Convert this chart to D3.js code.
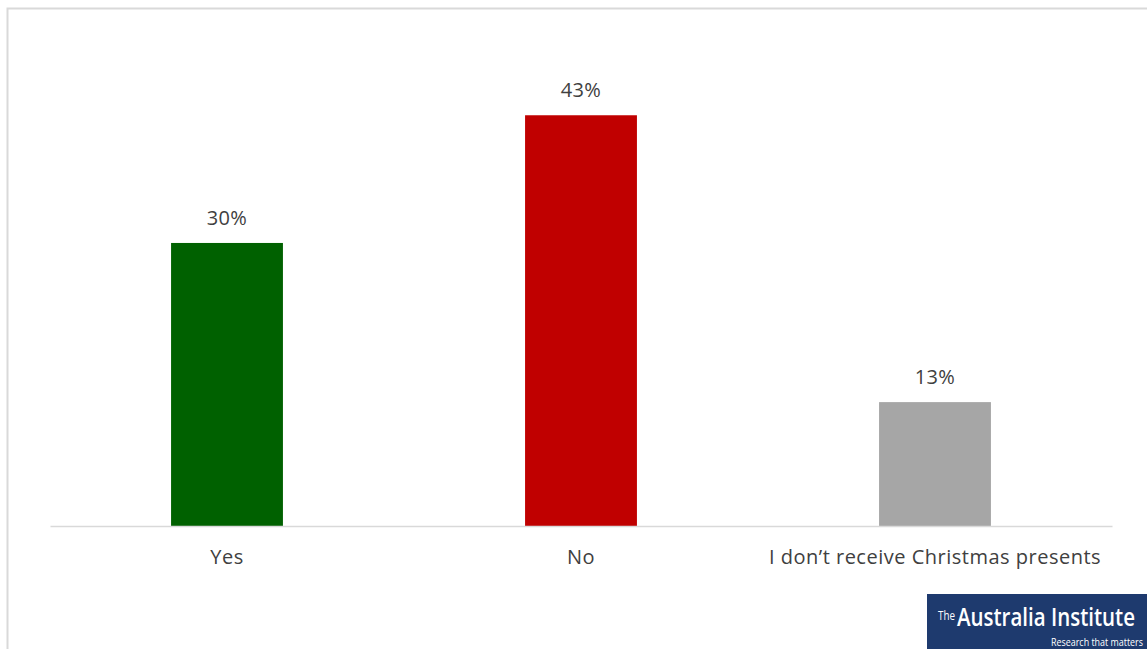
<!DOCTYPE html>
<html><head><meta charset="utf-8">
<script src="https://cdn.jsdelivr.net/npm/d3@7"></script>
<style>body{margin:0;background:#fff;}svg{display:block;}</style>
</head><body>
<svg id="c" width="1147" height="649"></svg>
<script>
const categories = ["Yes", "No", "I don\u2019t receive Christmas presents"];
const values = [29.7, 43.1, 13.0];
const valueLabels = ["30%", "43%", "13%"];
const colors = ["#006100", "#c00000", "#a6a6a6"];

const svg = d3.select("#c");
const baseY = 526;
const FONT = "'Open Sans', Lato, sans-serif";

// chart border
svg.append("rect").attr("x", 7.5).attr("y", 8.5).attr("width", 1160).attr("height", 700)
  .attr("fill", "none").attr("stroke", "#d9d9d9").attr("stroke-width", 2);

const x = d3.scaleBand().domain(categories).range([50, 1112]).paddingInner(0.684).paddingOuter(0.342);
const y = d3.scaleLinear().domain([0, 50]).range([baseY, baseY - 476.5]);

svg.selectAll("rect.bar").data(values).enter().append("rect").attr("class", "bar")
  .attr("x", (d, i) => x(categories[i]))
  .attr("width", x.bandwidth())
  .attr("y", d => y(d))
  .attr("height", d => y(0) - y(d))
  .attr("fill", (d, i) => colors[i]);

// baseline axis
const ax = svg.append("g").attr("transform", `translate(0,${baseY})`)
  .call(d3.axisBottom(x).tickSize(0).tickPadding(0));
ax.select(".domain").attr("stroke", "#d9d9d9").attr("stroke-width", 1.5);
ax.selectAll("text").attr("font-family", FONT).attr("font-size", 20).attr("letter-spacing", 0.5)
  .attr("fill", "#404040").attr("dy", 0).attr("y", 38);

svg.selectAll("text.val").data(values).enter().append("text").attr("class", "val")
  .attr("x", (d, i) => x(categories[i]) + x.bandwidth() / 2)
  .attr("y", d => y(d) - 18)
  .attr("text-anchor", "middle")
  .attr("font-family", FONT).attr("font-size", 20).attr("letter-spacing", 0.3)
  .attr("fill", "#404040")
  .text((d, i) => valueLabels[i]);

// logo
const logo = svg.append("g").attr("transform", "translate(927,594)");
logo.append("rect").attr("width", 220).attr("height", 55).attr("fill", "#1e3a6e");
const LF = "'Open Sans', 'Liberation Sans', sans-serif";
logo.append("text").attr("x", 11).attr("y", 26).attr("fill", "#fff")
  .attr("font-family", LF).attr("font-size", 12).attr("textLength", 17).attr("lengthAdjust", "spacingAndGlyphs")
  .text("The");
logo.append("text").attr("x", 30).attr("y", 32).attr("fill", "#fff")
  .attr("font-family", LF).attr("font-size", 26).attr("font-weight", 600)
  .attr("textLength", 178).attr("lengthAdjust", "spacingAndGlyphs").text("Australia Institute");
logo.append("text").attr("x", 124).attr("y", 52).attr("fill", "#fff")
  .attr("font-family", LF).attr("font-size", 11)
  .attr("textLength", 92).attr("lengthAdjust", "spacingAndGlyphs").text("Research that matters");
</script>
</body></html>
